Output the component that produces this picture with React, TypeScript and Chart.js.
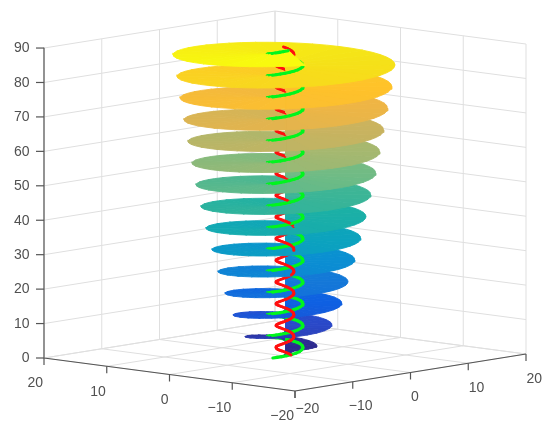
import React, { useEffect, useRef } from "react";
import { Chart, registerables } from "chart.js";

Chart.register(...registerables);

// ---- values ----
const xTicks = [-20, -10, 0, 10, 20];
const yTicks = [-20, -10, 0, 10, 20];
const zTicks = [0, 10, 20, 30, 40, 50, 60, 70, 80, 90];
const tickLabel = (v: number) => (v < 0 ? "\u2212" + Math.abs(v) : String(v));

// height of the spiral surface at its start, at each right/left tip, and at its end
const rimZ = [
  0, 1.7, 2.3, 2.6, 5.7, 8.9, 12.0, 15.2, 18.3, 21.5, 24.6, 27.8, 31.0, 34.1, 37.2, 40.4, 43.5,
  46.7, 49.8, 53.0, 56.1, 59.2, 62.4, 65.5, 68.7, 71.8, 75.0, 78.1, 81.3, 84.4, 87.6, 89.4,
];
// outer radius of the surface at the same stops
const rimRadius = [
  1.0, 1.3, 2.9, 3.75, 4.69, 5.51, 6.1, 6.68, 7.03, 7.39, 7.85, 8.2, 8.56, 8.9, 9.26, 9.5, 9.85,
  10.08, 10.43, 10.67, 10.9, 11.14, 11.37, 11.6, 11.84, 12.07, 12.3, 12.54, 12.66, 12.9, 13.13, 13.3,
];
// compass angle (degrees) of the stops
const rimAngle = [
  180, 277, 300, 313, 493, 673, 853, 1033, 1213, 1393, 1573, 1753, 1933, 2113, 2293, 2473, 2653,
  2833, 3013, 3193, 3373, 3553, 3733, 3913, 4093, 4273, 4453, 4633, 4813, 4993, 5173, 5273,
];
const greenRadius = 2.1;
const redRadius = 1.05;
const greenColor = "#00f51e";
const redColor = "#ff1010";

// how far the red strand stays visible above the next turn, by height
const redLiftZ = [0, 25, 50, 90];
const redLift = [4, 2.4, 0.6, 0.1];
const greenLift = 0.5;
const rimTilt = 1.07;

// surface colour read at each height
const colorZ = [0, 2.9, 9, 15.4, 21.5, 28, 34, 41, 47, 52.8, 59, 65.6, 72, 78, 84.8, 89];
const colorR = [46, 46, 42, 14, 20, 10, 11, 28, 61, 111, 164, 201, 238, 255, 245, 248];
const colorG = [42, 42, 72, 96, 120, 143, 163, 176, 181, 187, 184, 179, 181, 194, 226, 250];
const colorB = [143, 143, 200, 226, 216, 210, 190, 165, 150, 133, 112, 95, 69, 42, 24, 14];

// ---- camera: orthographic view of the box ----
const project = (x: number, y: number, z: number) => ({
  x: 285 + 5.775 * x - 6.275 * y,
  y: 356 - 0.925 * x - 0.825 * y - 3.444 * z,
});

const lerp = (a: number, b: number, s: number) => a + (b - a) * s;

function tableAt(xs: number[], ys: number[], v: number) {
  let i = 0;
  while (i < xs.length - 2 && v > xs[i + 1]) i++;
  const s = Math.min(1, (v - xs[i]) / (xs[i + 1] - xs[i]));
  return lerp(ys[i], ys[i + 1], s);
}

const colorAt = (z: number) =>
  `rgb(${Math.round(tableAt(colorZ, colorR, z))},${Math.round(tableAt(colorZ, colorG, z))},${Math.round(tableAt(colorZ, colorB, z))})`;

const polar = (r: number, deg: number, z: number) => {
  const t = (deg * Math.PI) / 180;
  return project(r * Math.cos(t), r * Math.sin(t), z);
};

const rim = (r: number, deg: number, z: number) => {
  const p = polar(r, deg, z);
  const c = project(0, 0, z);
  return { x: p.x, y: c.y + (p.y - c.y) * rimTilt };
};

function line(points: { x: number; y: number }[], color: string, width: number, order: number) {
  return {
    data: points,
    showLine: true,
    borderColor: color,
    borderWidth: width,
    pointRadius: 0,
    fill: false,
    order,
  };
}

function buildFrame() {
  const grid = "#dfdfdf";
  const axis = "#555555";
  const out: any[] = [];
  const L = 20;
  const top = zTicks[zTicks.length - 1];
  zTicks.forEach((z) => {
    out.push(line([project(-L, L, z), project(L, L, z), project(L, -L, z)], grid, 1, 100000));
  });
  xTicks.forEach((x) => {
    out.push(line([project(x, -L, 0), project(x, L, 0), project(x, L, top)], grid, 1, 100000));
  });
  yTicks.forEach((y) => {
    out.push(line([project(-L, y, 0), project(L, y, 0), project(L, y, top)], grid, 1, 100000));
  });
  out.push(line([project(-L, L, top), project(-L, L, 0), project(-L, -L, 0), project(L, -L, 0)], axis, 1.2, 90000));
  return out;
}

function buildSpiral() {
  const out: any[] = [];
  for (let i = 0; i < rimZ.length - 1; i++) {
    const steps = Math.max(2, Math.round((rimAngle[i + 1] - rimAngle[i]) / 15));
    for (let k = 0; k < steps; k++) {
      const s0 = k / steps;
      const s1 = (k + 1) / steps;
      const sm = (s0 + s1) / 2;
      const at = (s: number) => ({
        z: lerp(rimZ[i], rimZ[i + 1], s),
        r: lerp(rimRadius[i], rimRadius[i + 1], s),
        a: lerp(rimAngle[i], rimAngle[i + 1], s),
      });
      const p0 = at(s0);
      const pm = at(sm);
      const p1 = at(s1);
      const col = colorAt(pm.z);
      out.push({
        data: [
          polar(0, 0, p0.z),
          rim(p0.r, p0.a, p0.z),
          rim(pm.r, pm.a, pm.z),
          rim(p1.r, p1.a, p1.z),
          polar(0, 0, p1.z),
        ],
        showLine: true,
        borderColor: col,
        backgroundColor: col,
        borderWidth: 0.9,
        pointRadius: 0,
        fill: "shape",
        order: -p0.z,
      });
      out.push({
        ...line(
          [polar(greenRadius, p0.a, p0.z), polar(greenRadius, p1.a, p1.z)],
          greenColor,
          3.1,
          -p0.z - greenLift
        ),
        borderCapStyle: "round",
      });
      out.push({
        ...line(
          [polar(redRadius, p0.a - 180, p0.z), polar(redRadius, p1.a - 180, p1.z)],
          redColor,
          2.8,
          -p0.z - tableAt(redLiftZ, redLift, p0.z)
        ),
        borderCapStyle: "round",
      });
    }
  }
  return out;
}

const labelPlugin = {
  id: "boxLabels",
  afterDatasetsDraw(chart: any) {
    const { ctx, scales } = chart;
    const X = (p: { x: number; y: number }) => scales.x.getPixelForValue(p.x);
    const Y = (p: { x: number; y: number }) => scales.y.getPixelForValue(p.y);
    const L = 20;
    ctx.save();
    ctx.strokeStyle = "#555555";
    ctx.fillStyle = "#505050";
    ctx.lineWidth = 1.2;
    ctx.font = '14px "Liberation Sans", Arial, sans-serif';
    ctx.textBaseline = "middle";
    const tick = (px: number, py: number, dx: number, dy: number) => {
      ctx.beginPath();
      ctx.moveTo(px, py);
      ctx.lineTo(px + dx, py + dy);
      ctx.stroke();
    };
    zTicks.forEach((z) => {
      const p = project(-L, L, z);
      tick(X(p), Y(p), -8, 0);
      ctx.textAlign = "right";
      ctx.fillText(tickLabel(z), X(p) - 14.5, Y(p) + 0.5);
    });
    yTicks.forEach((y) => {
      const p = project(-L, y, 0);
      tick(X(p), Y(p), 0, 7);
      ctx.textAlign = "right";
      ctx.fillText(tickLabel(y), X(p) - 1, Y(p) + 25.5);
    });
    xTicks.forEach((x) => {
      const p = project(x, -L, 0);
      tick(X(p), Y(p), 0, 7);
      ctx.textAlign = "left";
      const drop = x === -20 ? 18 : x === -10 ? 24 : 25;
      const shift = x === -10 ? -4 : 0.5;
      ctx.fillText(tickLabel(x), X(p) + shift, Y(p) + drop);
    });
    ctx.restore();
  },
};

export default function App() {
  const ref = useRef<HTMLCanvasElement | null>(null);
  useEffect(() => {
    if (!ref.current) return;
    const chart = new Chart(ref.current, {
      type: "scatter",
      data: { datasets: [...buildFrame(), ...buildSpiral()] },
      options: {
        animation: false,
        responsive: false,
        parsing: false,
        events: [],
        layout: { padding: 0 },
        elements: { line: { tension: 0, borderJoinStyle: "round" } },
        plugins: { legend: { display: false }, tooltip: { enabled: false }, title: { display: false } },
        scales: {
          x: { type: "linear", display: false, min: 0, max: 550 },
          y: { type: "linear", display: false, min: 0, max: 433, reverse: true },
        },
      },
      plugins: [labelPlugin],
    } as any);
    return () => chart.destroy();
  }, []);
  return (
    <div style={{ position: "absolute", left: 0, top: 0, width: 550, height: 433, background: "#fff" }}>
      <canvas ref={ref} width={550} height={433} style={{ display: "block", filter: "blur(0.5px)" }} />
    </div>
  );
}
